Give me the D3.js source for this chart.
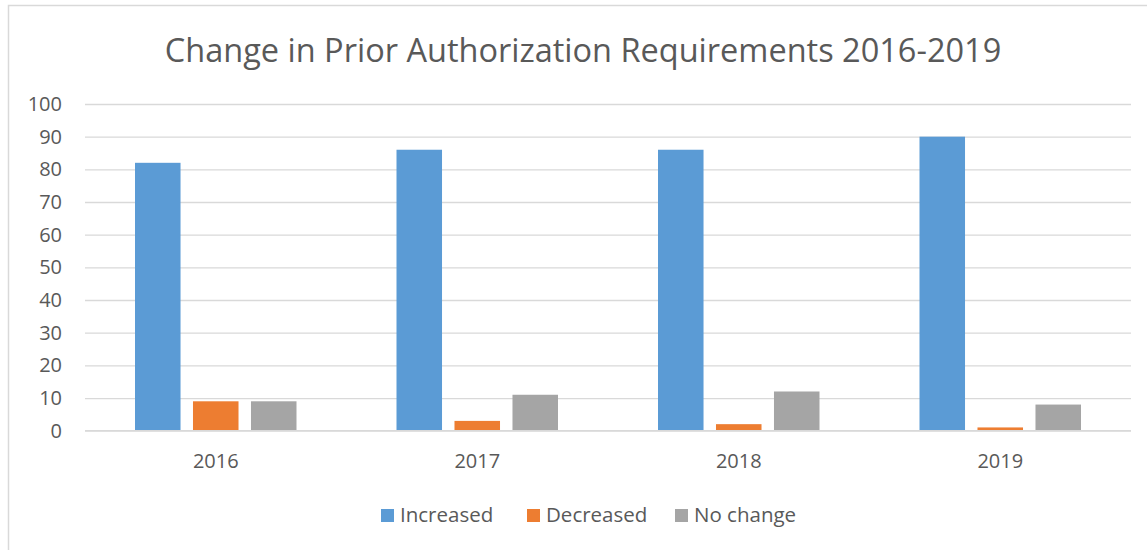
<!DOCTYPE html>
<html><head><meta charset="utf-8">
<script src="https://cdn.jsdelivr.net/npm/d3@7"></script>
<style>body{margin:0;background:#fff;} svg{display:block;}</style>
</head><body>
<script>
const years = ["2016","2017","2018","2019"];
const seriesNames = ["Increased","Decreased","No change"];
const increased = [82,86,86,90];
const decreased = [9,3,2,1];
const noChange = [9,11,12,8];
const yTicks = [0,10,20,30,40,50,60,70,80,90,100];
const colors = ["#5B9BD5","#ED7D31","#A5A5A5"];
const title = "Change in Prior Authorization Requirements 2016-2019";

const W = 1147, H = 550;
const FONT = "'Open Sans', sans-serif";
const svg = d3.select("body").append("svg").attr("width", W).attr("height", H);
svg.append("rect").attr("x",8.5).attr("y",5.5).attr("width",1160).attr("height",560)
  .attr("fill","#fff").attr("stroke","#D9D9D9").attr("stroke-width",1.5);

const plot = {left:85, right:1131, top:104, bottom:430.7};
const x0 = d3.scaleBand().domain(years).range([plot.left, plot.right]).paddingInner(0).paddingOuter(0);
const y = d3.scaleLinear().domain([0,100]).range([plot.bottom, plot.top]);
const groupPad = 50;
const x1 = d3.scaleBand().domain(seriesNames).range([groupPad, x0.bandwidth()-groupPad]).paddingInner(0.215);

// gridlines
const yAxis = d3.axisLeft(y).tickValues(yTicks).tickSize(-(plot.right-plot.left)).tickPadding(23);
const gy = svg.append("g").attr("transform",`translate(${plot.left},0)`).call(yAxis);
gy.select(".domain").remove();
gy.selectAll(".tick line").attr("stroke","#D9D9D9").attr("stroke-width",1.3);
gy.selectAll(".tick text").attr("fill","#595959").style("font-family",FONT).style("font-size","20px");

const data = years.map((yr,i)=>({year:yr, values:[increased[i],decreased[i],noChange[i]]}));
const g = svg.append("g");
g.selectAll("g.grp").data(data).join("g").attr("class","grp")
  .attr("transform",d=>`translate(${x0(d.year)},0)`)
  .selectAll("rect").data(d=>d.values.map((v,k)=>({k,v}))).join("rect")
  .attr("x",d=>x1(seriesNames[d.k])).attr("width",x1.bandwidth())
  .attr("y",d=>y(d.v)).attr("height",d=>y(0)-y(d.v))
  .attr("fill",d=>colors[d.k]);

// baseline
svg.append("line").attr("x1",plot.left).attr("x2",plot.right).attr("y1",y(0)).attr("y2",y(0))
  .attr("stroke","#D9D9D9").attr("stroke-width",1.3);

const xAxis = d3.axisBottom(x0).tickSize(0).tickPadding(23);
const gx = svg.append("g").attr("transform",`translate(0,${plot.bottom})`).call(xAxis);
gx.select(".domain").remove();
gx.selectAll(".tick text").attr("fill","#595959").style("font-family",FONT).style("font-size","20px");

svg.append("text").attr("x",583).attr("y",62).attr("text-anchor","middle")
  .attr("fill","#595959").style("font-family",FONT).style("font-size","32.5px").text(title);

// legend
const legX = [381,527,675];
const leg = svg.append("g");
seriesNames.forEach((s,i)=>{
  leg.append("rect").attr("x",legX[i]).attr("y",509).attr("width",13).attr("height",13).attr("fill",colors[i]);
  leg.append("text").attr("x",legX[i]+19).attr("y",522).attr("fill","#595959")
    .style("font-family",FONT).style("font-size","20.5px").text(s);
});
</script>
</body></html>
